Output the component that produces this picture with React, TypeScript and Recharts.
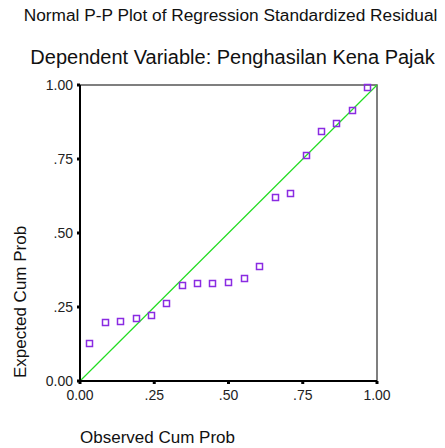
import { ReferenceArea, ReferenceLine, Scatter, ScatterChart, XAxis, YAxis } from 'recharts';

const observedCumProb = [
  0.031, 0.083, 0.135, 0.187, 0.238, 0.29, 0.343, 0.393, 0.445, 0.498,
  0.552, 0.603, 0.656, 0.707, 0.76, 0.811, 0.863, 0.915, 0.966,
];
const expectedCumProb = [
  0.129, 0.199, 0.203, 0.214, 0.222, 0.262, 0.325, 0.332, 0.332, 0.336,
  0.348, 0.389, 0.62, 0.635, 0.765, 0.845, 0.872, 0.916, 0.992,
];
const axisTicks = [0, 0.25, 0.5, 0.75, 1];

const points = observedCumProb.map((x, i) => ({ x, y: expectedCumProb[i] }));

const fmtTick = (v: number) => (v === 0 ? '0.00' : v === 1 ? '1.00' : v.toFixed(2).replace(/^0/, ''));

const font = 'Arial, "Liberation Sans", sans-serif';

const HollowSquare = (props: any) => {
  const { cx, cy } = props;
  if (cx == null || cy == null) return null;
  const x = Math.round(cx) - 2.5;
  const y = Math.round(cy) - 2.5;
  return <rect x={x} y={y} width={6} height={6} fill="none" stroke="#8a2be2" strokeWidth={1.5} />;
};

export default function App() {
  return (
    <div style={{ position: 'absolute', left: 0, top: 0, width: 445, height: 448, background: '#fff', fontFamily: font }}>
      <div style={{ position: 'absolute', top: 5, left: 0, width: 461, textAlign: 'center', fontSize: 17.3, color: '#111', whiteSpace: 'nowrap' }}>
        Normal P-P Plot of Regression Standardized Residual
      </div>
      <div style={{ position: 'absolute', top: 46, left: 0, width: 465, textAlign: 'center', fontSize: 20, color: '#111' }}>
        Dependent Variable: Penghasilan Kena Pajak
      </div>
      <div style={{ position: 'absolute', left: 80, top: 428, fontSize: 17, color: '#111', whiteSpace: 'nowrap' }}>
        Observed Cum Prob
      </div>
      <div
        style={{
          position: 'absolute',
          left: 11,
          top: 378,
          fontSize: 17,
          color: '#111',
          whiteSpace: 'nowrap',
          transform: 'rotate(-90deg)',
          transformOrigin: '0 0',
          lineHeight: '19px',
        }}
      >
        Expected Cum Prob
      </div>
      <ScatterChart width={445} height={448} margin={{ top: 85, right: 68, bottom: 0, left: 0 }} style={{ position: 'absolute', left: 0, top: 0 }}>
        <ReferenceArea x1={0} x2={1} y1={0} y2={1} fill="none" stroke="#555" strokeWidth={1.5} ifOverflow="visible" />
        <XAxis
          type="number"
          dataKey="x"
          domain={[0, 1]}
          ticks={axisTicks}
          tickFormatter={fmtTick}
          height={67}
          tickSize={3}
          tickMargin={6}
          axisLine={{ stroke: '#000', strokeWidth: 2 }}
          tickLine={{ stroke: '#000', strokeWidth: 3 }}
          tick={{ fontSize: 14, fill: '#222', fontFamily: font }}
        />
        <YAxis
          type="number"
          dataKey="y"
          domain={[0, 1]}
          ticks={axisTicks}
          tickFormatter={fmtTick}
          width={80}
          tickSize={3}
          tickMargin={4}
          axisLine={{ stroke: '#000', strokeWidth: 2 }}
          tickLine={{ stroke: '#000', strokeWidth: 3 }}
          tick={{ fontSize: 14, fill: '#222', fontFamily: font }}
        />
        <ReferenceLine segment={[{ x: 0, y: 0 }, { x: 1, y: 1 }]} stroke="#22dd22" strokeWidth={1.2} />
        <Scatter data={points} shape={HollowSquare} isAnimationActive={false} />
      </ScatterChart>
    </div>
  );
}
